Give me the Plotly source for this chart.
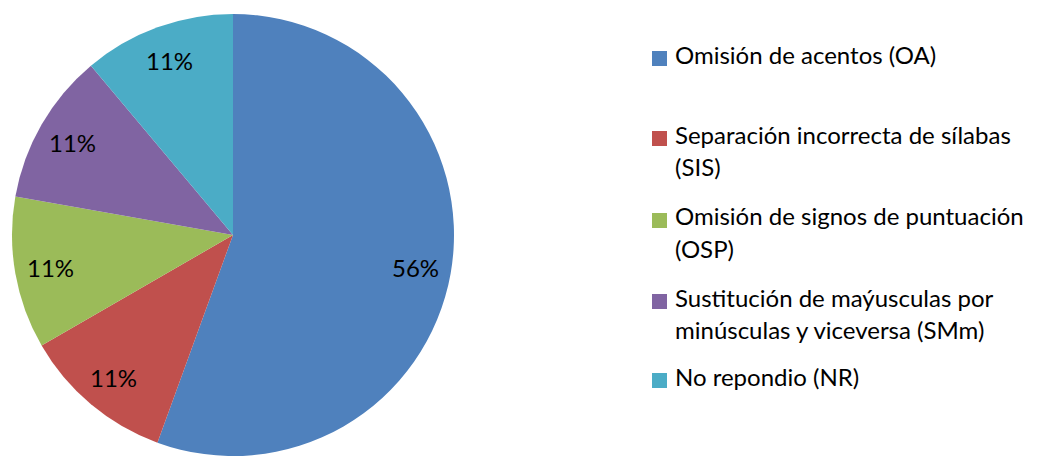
import math
import plotly.graph_objects as go

# Error categories and counts
categories = [
    "Omisión de acentos (OA)",
    "Separación incorrecta de sílabas\n(SIS)",
    "Omisión de signos de puntuación\n(OSP)",
    "Sustitución de maýusculas por\nminúsculas y viceversa (SMm)",
    "No repondio (NR)",
]
counts = [5, 1, 1, 1, 1]
colors = ["#4F81BD", "#C0504D", "#9BBB59", "#8064A2", "#4BACC6"]

W, H = 1047, 456
FONT = "Lato"

# Pie placement (pixels): centre and radius
CX, CY, R = 233, 235, 221
LABEL_R = 0.84  # radial fraction where percentage labels sit

fig = go.Figure(
    go.Pie(
        labels=[c.replace("\n", " ") for c in categories],
        values=counts,
        sort=False,
        direction="clockwise",
        rotation=0,
        marker=dict(colors=colors, line=dict(width=0)),
        textinfo="none",
        domain=dict(x=[(CX - R) / W, (CX + R) / W], y=[(H - CY - R) / H, (H - CY + R) / H]),
        showlegend=False,
        hoverinfo="label+percent",
    )
)

annotations = []

# Percentage labels placed along each slice's mid-angle
total = sum(counts)
acc = 0
for v in counts:
    mid = (acc + v / 2) / total * 2 * math.pi  # clockwise from 12 o'clock
    acc += v
    px = CX + LABEL_R * R * math.sin(mid)
    py = CY - LABEL_R * R * math.cos(mid)
    annotations.append(
        dict(
            text=f"{round(100 * v / total)}%", xref="paper", yref="paper",
            x=px / W, y=1 - py / H, xanchor="center", yanchor="middle",
            showarrow=False,
            font=dict(family=FONT, size=24, color="#000000"),
        )
    )

# Legend drawn at the right: one square per category, one text line per row
legend_rows = [57, 137, 219, 300, 379]
line_step = 32
shapes = []
for cat, col, y0 in zip(categories, colors, legend_rows):
    shapes.append(
        dict(
            type="rect", xref="paper", yref="paper",
            x0=652 / W, x1=667 / W,
            y0=1 - (y0 + 9) / H, y1=1 - (y0 - 6) / H,
            fillcolor=col, line=dict(width=0),
        )
    )
    for i, line in enumerate(cat.split("\n")):
        annotations.append(
            dict(
                text=line, xref="paper", yref="paper",
                x=673 / W, y=1 - (y0 - 3 + i * line_step) / H,
                xanchor="left", yanchor="middle", showarrow=False,
                font=dict(family=FONT, size=24, color="#000000"),
            )
        )

fig.update_layout(
    width=W, height=H,
    margin=dict(l=0, r=0, t=0, b=0),
    paper_bgcolor="#FFFFFF",
    plot_bgcolor="#FFFFFF",
    shapes=shapes,
    annotations=annotations,
)

fig.write_html("out.html")
